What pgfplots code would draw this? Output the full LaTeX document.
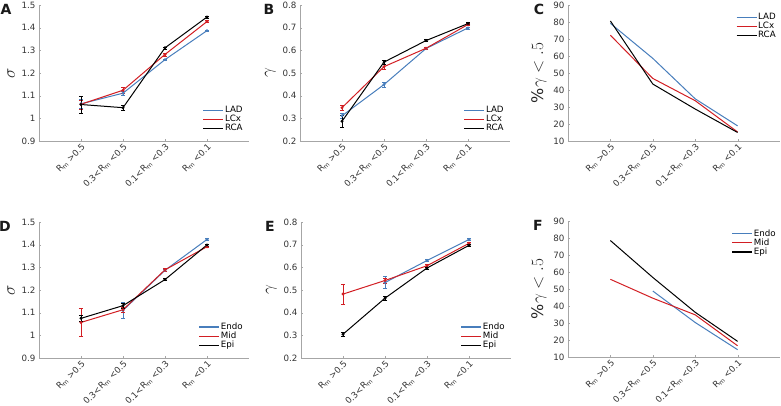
\documentclass[border=0pt]{standalone}
\usepackage{pgfplots}
\pgfplotsset{compat=1.18}
\usepackage{fontspec}
\setmainfont{DejaVu Sans}

\definecolor{cblue}{RGB}{72,126,188}
\definecolor{cred}{RGB}{210,30,35}

\newcommand{\Rm}{R\textsubscript{m}}
\newcommand{\tickfont}{\fontsize{8.7}{9}\selectfont}

\pgfplotsset{
  panel/.style={
    scale only axis, width=210pt, height=136pt,
    anchor=south west,
    axis lines*=left, axis line style={-, gray!70},
    xmin=0, xmax=5, xtick={1,2,3,4},
    xticklabels={{\Rm{} >0.5},{0.3<\Rm{} <0.5},{0.1<\Rm{} <0.3},{\Rm{} <0.1}},
    x tick label style={rotate=45, anchor=north east, font=\tickfont, text=black!80, inner sep=1pt},
    y tick label style={font=\tickfont, text=black!80},
    /pgf/number format/assume math mode=true,
    tick align=inside, major tick length=2pt, tick style={gray!70},
    ylabel style={font=\fontsize{16}{16}\selectfont, text=black!85},
    legend style={draw=none, fill=none, font=\tickfont, row sep=-1pt,
      nodes={inner sep=1pt}},
    legend cell align=left,
    legend image code/.code={\draw[#1, line width=1.2pt] (0pt,0pt) -- (20pt,0pt);},
    every axis plot/.append style={line width=1pt},
  },
  bottomleg/.style={legend style={at={(rel axis cs:0.99,0.04)}, anchor=south east}},
  topleg/.style={legend style={at={(rel axis cs:1,0.96)}, anchor=north east}},
  eb/.style={mark=*, mark size=0.9pt,
    error bars/.cd, y dir=both, y explicit,
    error bar style={line width=0.8pt}, error mark options={mark size=2pt, rotate=90}},
}

\begin{document}
\begin{tikzpicture}
\useasboundingbox (0pt,0pt) rectangle (781pt,-406pt);

% ---------- A ----------
\begin{axis}[panel, bottomleg, at={(39pt,-141pt)},
  ymin=0.9, ymax=1.5, ytick={0.9,1,...,1.5}, ylabel={$\sigma$}]
\addplot[cblue, eb] coordinates {(1,1.064) +- (0,0.020) (2,1.111) +- (0,0.008) (3,1.259) +- (0,0.004) (4,1.387) +- (0,0.004)};
\addplot[cred, eb] coordinates {(1,1.062) +- (0,0.020) (2,1.124) +- (0,0.013) (3,1.282) +- (0,0.006) (4,1.427) +- (0,0.004)};
\addplot[black, eb] coordinates {(1,1.061) +- (0,0.038) (2,1.047) +- (0,0.010) (3,1.311) +- (0,0.004) (4,1.447) +- (0,0.004)};
\legend{LAD, LCx, RCA}
\end{axis}

% ---------- B ----------
\begin{axis}[panel, bottomleg, at={(300pt,-141pt)},
  ymin=0.2, ymax=0.8, ytick={0.2,0.3,...,0.8}, ylabel={$\gamma$}]
\addplot[cblue, eb] coordinates {(1,0.311) +- (0,0.010) (2,0.449) +- (0,0.010) (3,0.608) +- (0,0.004) (4,0.699) +- (0,0.004)};
\addplot[cred, eb] coordinates {(1,0.347) +- (0,0.012) (2,0.528) +- (0,0.010) (3,0.609) +- (0,0.004) (4,0.714) +- (0,0.004)};
\addplot[black, eb] coordinates {(1,0.287) +- (0,0.027) (2,0.548) +- (0,0.008) (3,0.643) +- (0,0.004) (4,0.718) +- (0,0.004)};
\legend{LAD, LCx, RCA}
\end{axis}

% ---------- C ----------
\begin{axis}[panel, topleg, at={(568pt,-141pt)}, width=212pt,
  ymin=10, ymax=90, ytick={10,20,...,90}, ylabel={$\%\gamma < .5$}]
\addplot[cblue] coordinates {(1,79.2) (2,58.6) (3,34.8) (4,18.9)};
\addplot[cred] coordinates {(1,72.2) (2,46.8) (3,33.7) (4,15.3)};
\addplot[black] coordinates {(1,80.6) (2,43.5) (3,28.8) (4,15.0)};
\legend{LAD, LCx, RCA}
\end{axis}

% ---------- D ----------
\begin{axis}[panel, bottomleg, at={(39pt,-358pt)},
  ymin=0.9, ymax=1.5, ytick={0.9,1,...,1.5}, ylabel={$\sigma$}]
\addplot[cblue, eb] coordinates {(2,1.110) +- (0,0.035) (3,1.287) +- (0,0.005) (4,1.423) +- (0,0.004)};
\addplot[cred, eb] coordinates {(1,1.057) +- (0,0.062) (2,1.113) +- (0,0.012) (3,1.289) +- (0,0.006) (4,1.391) +- (0,0.004)};
\addplot[black, eb] coordinates {(1,1.075) +- (0,0.013) (2,1.131) +- (0,0.012) (3,1.246) +- (0,0.004) (4,1.399) +- (0,0.004)};
\legend{Endo, Mid, Epi}
\end{axis}

% ---------- E ----------
\begin{axis}[panel, bottomleg, at={(301pt,-358pt)},
  ymin=0.2, ymax=0.8, ytick={0.2,0.3,...,0.8}, ylabel={$\gamma$}]
\addplot[cblue, eb] coordinates {(2,0.533) +- (0,0.026) (3,0.630) +- (0,0.004) (4,0.723) +- (0,0.004)};
\addplot[cred, eb] coordinates {(1,0.482) +- (0,0.045) (2,0.542) +- (0,0.012) (3,0.607) +- (0,0.005) (4,0.706) +- (0,0.004)};
\addplot[black, eb] coordinates {(1,0.305) +- (0,0.009) (2,0.464) +- (0,0.007) (3,0.597) +- (0,0.004) (4,0.697) +- (0,0.004)};
\legend{Endo, Mid, Epi}
\end{axis}

% ---------- F ----------
\begin{axis}[panel, topleg, at={(568pt,-357pt)}, width=212pt,
  ymin=10, ymax=90, ytick={10,20,...,90}, ylabel={$\%\gamma < .5$}]
\addplot[cblue] coordinates {(2,48.8) (3,30.3) (4,14.3)};
\addplot[cred] coordinates {(1,55.7) (2,44.6) (3,34.8) (4,16.6)};
\addplot[black] coordinates {(1,78.5) (2,56.8) (3,36.3) (4,19.2)};
\legend{Endo, Mid, Epi}
\end{axis}

% panel letters
\begin{scope}[every node/.style={font=\fontsize{14}{14}\selectfont\bfseries, text=black!90}]
\node at (6pt,-9pt) {A};
\node at (269pt,-9pt) {B};
\node at (539pt,-9pt) {C};
\node at (5pt,-226pt) {D};
\node at (270pt,-226pt) {E};
\node at (538pt,-225pt) {F};
\end{scope}
\end{tikzpicture}
\end{document}
